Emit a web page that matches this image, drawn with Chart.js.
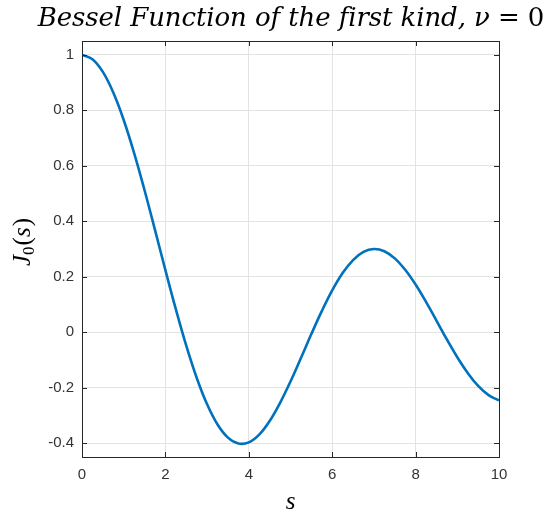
<!DOCTYPE html>
<html>
<head>
<meta charset="utf-8">
<script src="https://cdn.jsdelivr.net/npm/chart.js@4/dist/chart.umd.min.js"></script>
<style>
html,body{margin:0;padding:0;background:#fff;}
#wrap{width:547px;height:515px;position:relative;}
</style>
</head>
<body>
<div id="wrap"><canvas id="c" width="547" height="515"></canvas></div>
<script>
// Data
const sValues = [0,0.25,0.5,0.75,1,1.25,1.5,1.75,2,2.25,2.5,2.75,3,3.25,3.5,3.75,4,4.25,4.5,4.75,5,5.25,5.5,5.75,6,6.25,6.5,6.75,7,7.25,7.5,7.75,8,8.25,8.5,8.75,9,9.25,9.5,9.75,10];
const j0Values = [1,0.9844,0.9385,0.8642,0.7652,0.6459,0.5118,0.3690,0.2239,0.0829,-0.0484,-0.1641,-0.2601,-0.3328,-0.3801,-0.4014,-0.3972,-0.3693,-0.3205,-0.2547,-0.1776,-0.0931,-0.0068,0.0758,0.1506,0.2131,0.2601,0.2895,0.3001,0.2921,0.2663,0.2251,0.1717,0.1092,0.0419,-0.0261,-0.0903,-0.1470,-0.1939,-0.2270,-0.2459];
const xTicks = [0,2,4,6,8,10];
const yTicks = [-0.4,-0.2,0,0.2,0.4,0.6,0.8,1];
const yTickLabels = ['-0.4','-0.2','0','0.2','0.4','0.6','0.8','1'];
const titleText = 'Bessel Function of the first kind,';
const xLabel = 's';

const AXIS = '#262626';
const TICKTXT = '#333333';
const GRID = '#e3e3e3';
const LINE = '#0072BD';
const SERIF = '"Liberation Serif", "DejaVu Serif", serif';
const TSERIF = '"DejaVu Serif", "Liberation Serif", serif';
const SANS = '"Liberation Sans", Arial, sans-serif';

const decorPlugin = {
  id: 'decor',
  afterDraw(chart) {
    const ctx = chart.ctx;
    const a = chart.chartArea;
    const xs = chart.scales.x, ys = chart.scales.y;
    ctx.save();
    // box
    ctx.strokeStyle = AXIS;
    ctx.lineWidth = 1;
    ctx.beginPath();
    ctx.rect(Math.round(a.left)+0.5, Math.round(a.top)+0.5, Math.round(a.right-a.left), Math.round(a.bottom-a.top));
    ctx.stroke();
    // inward ticks
    const tl = 5;
    ctx.beginPath();
    xTicks.forEach(v => {
      const px = Math.round(xs.getPixelForValue(v)) + 0.5;
      ctx.moveTo(px, a.bottom); ctx.lineTo(px, a.bottom - tl);
      ctx.moveTo(px, a.top); ctx.lineTo(px, a.top + tl);
    });
    yTicks.forEach(v => {
      const py = Math.round(ys.getPixelForValue(v)) + 0.5;
      ctx.moveTo(a.left, py); ctx.lineTo(a.left + tl, py);
      ctx.moveTo(a.right, py); ctx.lineTo(a.right - tl, py);
    });
    ctx.stroke();

    // title, fitted to span ~506px like the reference
    ctx.fillStyle = '#000';
    ctx.textBaseline = 'alphabetic';
    const fs = 26;
    const italic = 'italic ' + fs + 'px ' + TSERIF;
    const upright = fs + 'px ' + TSERIF;
    const target = 506;
    const part1 = titleText + ' ';
    ctx.letterSpacing = '0px';
    ctx.font = italic;
    const n1 = part1.length + 1;
    const b1 = ctx.measureText(part1).width + ctx.measureText('ν').width;
    ctx.font = upright;
    const part3 = ' = 0';
    const b3 = ctx.measureText(part3).width;
    const n3 = part3.length;
    const sp = Math.max(-1.5, Math.min(2, (target - b1 - b3) / (n1 + n3 - 1)));
    ctx.letterSpacing = sp.toFixed(2) + 'px';
    ctx.font = italic;
    const w1 = ctx.measureText(part1).width;
    const w2 = ctx.measureText('ν').width;
    ctx.font = upright;
    const w3 = ctx.measureText(part3).width;
    const total = w1 + w2 + w3 - sp;
    let x0 = 291 - total / 2;
    const by = 26;
    ctx.textAlign = 'left';
    ctx.font = italic;
    ctx.fillText(part1, x0, by);
    ctx.fillText('ν', x0 + w1, by);
    ctx.font = upright;
    ctx.fillText(part3, x0 + w1 + w2, by);
    ctx.letterSpacing = '0px';

    // x label
    ctx.font = 'italic 25px ' + SERIF;
    ctx.textAlign = 'center';
    ctx.fillText(xLabel, (a.left + a.right) / 2, 509);

    // y label J_0(s)
    ctx.translate(30, 242);
    ctx.rotate(-Math.PI / 2);
    ctx.textAlign = 'left';
    const fJ = 'italic 25px ' + SERIF;
    const fSub = '17px ' + SERIF;
    const fPar = '25px ' + SERIF;
    ctx.font = fJ; const wJ = ctx.measureText('J').width;
    ctx.font = fSub; const w0 = ctx.measureText('0').width;
    ctx.font = fPar; const wp = ctx.measureText('(').width;
    ctx.font = fJ; const ws = ctx.measureText('s').width;
    ctx.font = fPar; const wq = ctx.measureText(')').width;
    const tot = wJ + w0 + wp + ws + wq + 2;
    let cx = -tot / 2;
    ctx.font = fJ; ctx.fillText('J', cx, 0); cx += wJ;
    ctx.font = fSub; ctx.fillText('0', cx, 4); cx += w0 + 1;
    ctx.font = fPar; ctx.fillText('(', cx, 0); cx += wp;
    ctx.font = fJ; ctx.fillText('s', cx, 0); cx += ws + 1;
    ctx.font = fPar; ctx.fillText(')', cx, 0);
    ctx.restore();
  }
};

new Chart(document.getElementById('c'), {
  type: 'line',
  data: {
    datasets: [{
      data: sValues.map((s, i) => ({x: s, y: j0Values[i]})),
      borderColor: LINE,
      borderWidth: 2.6,
      pointRadius: 0,
      fill: false,
      tension: 0.4
    }]
  },
  options: {
    responsive: false,
    animation: false,
    devicePixelRatio: 1,
    layout: { padding: { left: 0, right: 48, top: 41, bottom: 0 } },
    plugins: { legend: { display: false }, tooltip: { enabled: false }, title: { display: false } },
    scales: {
      x: {
        type: 'linear', min: 0, max: 10,
        afterBuildTicks: s => { s.ticks = xTicks.map(v => ({value: v})); },
        afterFit: s => { s.height = 58; },
        ticks: { color: TICKTXT, font: { family: SANS, size: 15 }, padding: 9, maxRotation: 0,
                 callback: v => String(v) },
        grid: { color: GRID, drawTicks: false, lineWidth: 1 },
        border: { color: AXIS, width: 1 }
      },
      y: {
        type: 'linear', min: -0.45, max: 1.05,
        afterBuildTicks: s => { s.ticks = yTicks.map(v => ({value: v})); },
        afterFit: s => { s.width = 82; },
        ticks: { color: TICKTXT, font: { family: SANS, size: 15 }, padding: 8,
                 callback: (v) => { const i = yTicks.findIndex(t => Math.abs(t - v) < 1e-9); return i >= 0 ? yTickLabels[i] : ''; } },
        grid: { color: GRID, drawTicks: false, lineWidth: 1 },
        border: { color: AXIS, width: 1 }
      }
    }
  },
  plugins: [decorPlugin]
});
</script>
</body>
</html>
